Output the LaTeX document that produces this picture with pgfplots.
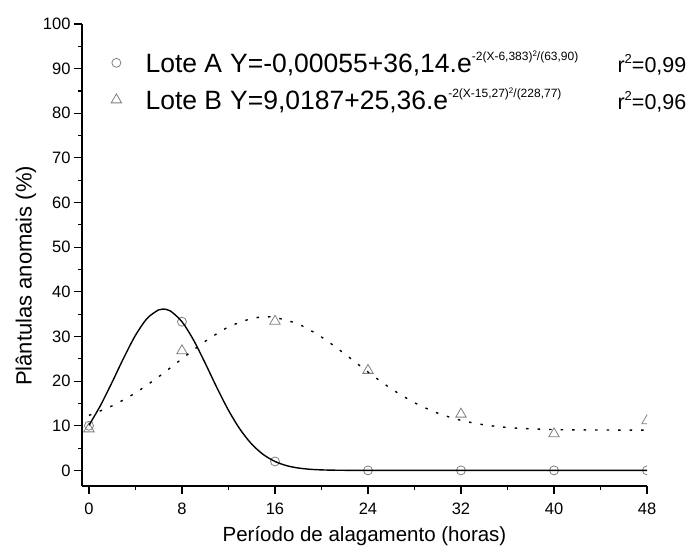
\documentclass[border=0pt]{standalone}
\usepackage{fontspec}
\setmainfont{Liberation Sans}
\usepackage{pgfplots}
\pgfplotsset{compat=1.18}
\newcommand{\supr}[1]{\raisebox{12bp}{\fontsize{12bp}{12bp}\selectfont #1}}
\newcommand{\supp}{\raisebox{4bp}{\fontsize{8bp}{8bp}\selectfont 2}}
\newcommand{\rsq}[1]{{\fontsize{21.5bp}{26bp}\selectfont r\raisebox{9bp}{\fontsize{13bp}{13bp}\selectfont 2}=#1}}
\begin{document}
\begin{tikzpicture}
\begin{axis}[
 scale only axis, width=565bp, height=462bp,
 xmin=-0.6, xmax=48, ymin=-3.5, ymax=100,
 axis lines*=left,
 axis line style={line width=1.3bp},
 xtick={0,8,...,48}, ytick={0,10,...,100},
 minor x tick num=1, minor y tick num=1,
 tick align=outside,
 major tick length=8bp, minor tick length=4bp,
 every tick/.style={line width=1.1bp, black},
 clip marker paths=true,
 /pgf/number format/assume math mode=true,
 ticklabel style={font=\fontsize{16.5bp}{19bp}\selectfont},
 xticklabel style={yshift=-5bp},
 xlabel={Período de alagamento (horas)},
 ylabel={Plântulas anomais (\%)},
 xlabel style={font=\fontsize{20.5bp}{24bp}\selectfont, yshift=-5bp},
 ylabel style={font=\fontsize{22bp}{26bp}\selectfont},
 every axis y label/.append style={at={(ticklabel cs:0.455)}},
 legend style={draw=none, fill=none, at={(0.046,0.95)}, anchor=north west,
   font=\fontsize{26.5bp}{30bp}\selectfont, row sep=10bp},
 legend cell align=left,
]
\addplot[only marks, mark=o, mark size=4.5bp, color=gray, mark options={line width=0.8bp}]
 coordinates {(0,10) (8,33.3) (16,2) (24,0) (32,0) (40,0) (48,0)};
\addlegendentry{\hspace{22bp}\makebox[472bp][l]{Lote A\hspace{8bp}Y=-0,00055+36,14.e\supr{-2(X-6,383)\supp/(63,90)}}\rsq{0,99}}
\addplot[only marks, mark=triangle, mark size=6bp, color=gray, mark options={line width=0.8bp}]
 coordinates {(0,9.3) (8,26.8) (16,33.4) (24,22.4) (32,12.6) (40,8.2) (48,11.1)};
\addlegendentry{\hspace{22bp}\makebox[472bp][l]{Lote B\hspace{8bp}Y=9,0187+25,36.e\supr{-2(X-15,27)\supp/(228,77)}}\rsq{0,96}}
\addplot[forget plot, black, line width=1.4bp, smooth] coordinates {
 (0,10.10) (1,14.59) (2,19.81) (3,25.26) (4,30.26) (5,34.04) (6,35.97) (6.383,36.14)
 (7,35.71) (8,33.30) (9,29.17) (10,24.00) (11,18.55) (12,13.46) (13,9.18) (14,5.88)
 (15,3.54) (16,2.00) (17,1.06) (18,0.53) (19,0.25) (20,0.11) (21,0.045) (22,0.017)
 (24,0) (32,0) (40,0) (48,0)};
\addplot[forget plot, black, line width=1.4bp, smooth, dash pattern=on 2.5bp off 9bp] coordinates {
 (0,12.32) (2,14.46) (4,17.37) (6,20.98) (8,25.00) (10,28.91) (12,32.12) (14,34.02)
 (15.27,34.38) (16,34.26) (18,32.78) (20,29.87) (22,26.09) (24,22.04) (26,18.29)
 (28,15.17) (30,12.82) (32,11.21) (34,10.20) (36,9.61) (38,9.30) (40,9.14) (42,9.07)
 (44,9.04) (46,9.03) (48,9.02)};
\end{axis}
\pgfresetboundingbox
\path (current axis.south west) ++(-82bp,-64bp) rectangle ++(688bp,550bp);
\end{tikzpicture}
\end{document}
